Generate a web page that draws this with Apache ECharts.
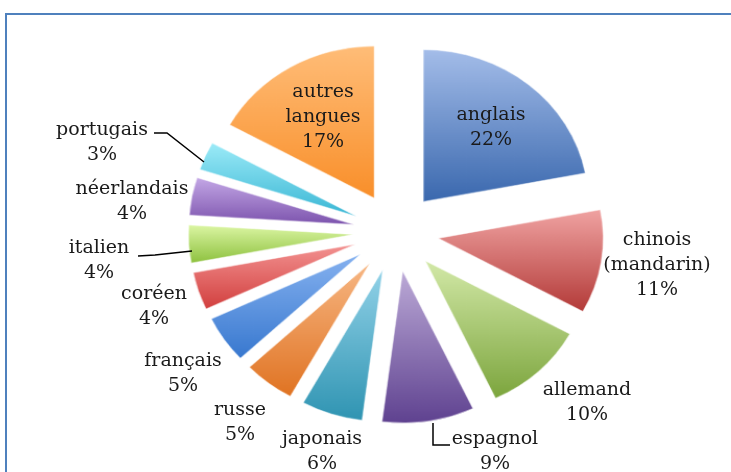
<!DOCTYPE html>
<html>
<head>
<meta charset="utf-8">
<title>Langues</title>
<script src="https://cdn.jsdelivr.net/npm/echarts@6/dist/echarts.min.js"></script>
</head>
<body style="margin:0;background:#fff;">
<div style="position:relative;width:731px;height:472px;overflow:hidden;">
    <!-- le camembert est légèrement étiré en largeur, comme dans l'original -->
    <div id="secteurs" style="position:absolute;left:0;top:0;width:731px;height:472px;transform-origin:396px 232px;transform:scale(1.044,0.962);"></div>
    <div id="main" style="position:absolute;left:0;top:0;width:731px;height:472px;"></div>
</div>
<script type="text/javascript">
    // données
    var langues = ['anglais', 'chinois (mandarin)', 'allemand', 'espagnol', 'japonais', 'russe',
        'français', 'coréen', 'italien', 'néerlandais', 'portugais', 'autres langues'];
    var parts = [22, 11, 10, 9, 6, 5, 5, 4, 4, 4, 3, 17];

    // couleurs (haut -> bas du dégradé)
    var couleurs = [
        ['#a4bde9', '#3a68ae'], ['#f0a3a2', '#b33a38'], ['#d3e9a8', '#7ca53d'], ['#bcaad7', '#5f4290'],
        ['#92d2e8', '#2f94b2'], ['#f7b784', '#e07322'], ['#86b2f0', '#3878cf'], ['#f39392', '#d23f3e'],
        ['#dcf6a4', '#8dc13e'], ['#c4a8e6', '#7c53ad'], ['#9cebf8', '#39b6d4'], ['#ffbd78', '#f98f2a']
    ];
    // position des étiquettes (centre du texte) et traits de rappel
    var posEtiquettes = [[491, 128], [657, 265], [587, 403], [495, 452], [322, 452], [240, 423],
        [183, 374], [154, 307], [99, 261], [132, 202], [102, 143], [323, 117]];
    var traits = {
        3: [[433, 423], [433, 445], [450, 445]],
        8: [[138, 256], [155, 255], [192, 251]],
        10: [[154, 133], [167, 133], [204, 162]]
    };

    var centre = [396, 232];
    var rayon = 158;

    // secteurs éclatés
    var chartSecteurs = echarts.init(document.getElementById('secteurs'));
    chartSecteurs.setOption({
        animation: false,
        series: [{
            type: 'pie',
            center: centre,
            radius: rayon,
            startAngle: 90,
            selectedMode: 'multiple',
            selectedOffset: 41,
            data: langues.map(function (nom, i) {
                return {
                    name: nom,
                    value: parts[i],
                    selected: true,
                    itemStyle: {
                        color: new echarts.graphic.LinearGradient(0, 0, 0, 1, [
                            {offset: 0, color: couleurs[i][0]},
                            {offset: 1, color: couleurs[i][1]}
                        ])
                    }
                };
            }),
            itemStyle: {borderColor: '#fff', borderWidth: 0.5},
            label: {show: false},
            labelLine: {show: false},
            emphasis: {disabled: true},
            silent: true
        }]
    });

    // cadre + étiquettes (série transparente)
    var myChart = echarts.init(document.getElementById('main'));
    myChart.setOption({
        animation: false,
        graphic: [{
            type: 'rect',
            shape: {x: 6, y: 14, width: 760, height: 480},
            style: {fill: null, stroke: '#4f81bd', lineWidth: 2},
            silent: true
        }],
        series: [{
            type: 'pie',
            center: centre,
            radius: rayon,
            startAngle: 90,
            data: langues.map(function (nom, i) {
                return {name: nom, value: parts[i], labelLine: {show: !!traits[i]}};
            }),
            itemStyle: {color: 'rgba(0,0,0,0)'},
            label: {
                show: true,
                position: 'outside',
                fontFamily: 'DejaVu Serif',
                fontSize: 19,
                lineHeight: 25,
                color: '#1a1a1a',
                formatter: function (p) {
                    return p.name.replace(' ', '\n') + '\n' + p.value + '%';
                }
            },
            labelLine: {
                lineStyle: {color: '#000', width: 1.5}
            },
            labelLayout: function (p) {
                var pos = posEtiquettes[p.dataIndex];
                var res = {x: pos[0], y: pos[1], align: 'center', verticalAlign: 'middle'};
                if (traits[p.dataIndex]) res.labelLinePoints = traits[p.dataIndex];
                return res;
            },
            emphasis: {disabled: true},
            silent: true
        }]
    });
</script>
</body>
</html>
